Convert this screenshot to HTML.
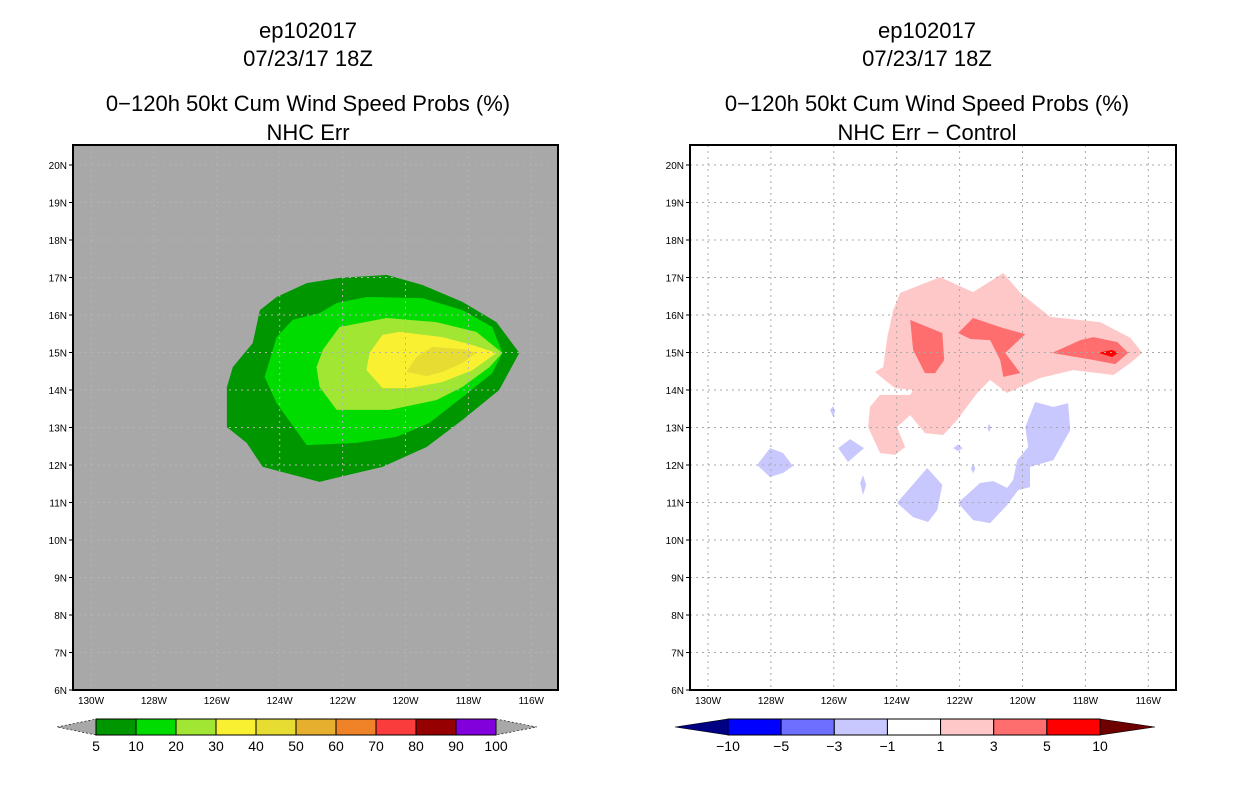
<!DOCTYPE html>
<html><head><meta charset="utf-8"><style>
html,body{margin:0;padding:0;background:#fff;}
svg{display:block;}
text{font-family:"Liberation Sans",sans-serif;}
</style></head><body>
<svg id="root" width="1236" height="800" xmlns="http://www.w3.org/2000/svg">
<rect width="1236" height="800" fill="#fff"/>
</svg>
<script>
// ---- data ----
const lonTicks=[130,128,126,124,122,120,118,116];
const latTicks=[20,19,18,17,16,15,14,13,12,11,10,9,8,7,6];
const leftLevels=['5','10','20','30','40','50','60','70','80','90','100'];
const leftColors=['#009600','#00dc00','#a0e632','#faf032','#e6dc32','#e6af2d','#f08228','#fa3c3c','#960000','#8200dc'];
const rightLevels=['\u221210','\u22125','\u22123','\u22121','1','3','5','10'];
const rightColors=['#0000ff','#6e6eff','#c8c8ff','#ffffff','#ffc8c8','#ff6e6e','#ff0000'];
// contours [lonW, latN]
const probC5=[[123.14,16.85],[122.1,16.99],[120.6,17.07],[119.46,16.8],[118.19,16.35],[117.11,15.81],[116.38,14.99],[117.02,14.0],[118.19,13.2],[119.33,12.48],[120.73,11.95],[122.1,11.68],[122.73,11.55],[124.54,11.95],[125.05,12.59],[125.68,13.01],[125.68,14.08],[125.49,14.61],[124.86,15.25],[124.63,16.13],[124.1,16.48]];
const probC10=[[122.19,16.32],[121.24,16.48],[119.46,16.45],[118.19,16.13],[117.24,15.68],[116.92,14.99],[117.24,14.45],[118.19,13.81],[119.24,13.12],[120.29,12.75],[121.56,12.59],[123.14,12.53],[124.1,13.65],[124.48,14.35],[124.1,15.41],[123.59,15.87],[122.73,16.05]];
const probC20=[[122.63,15.07],[122.1,15.68],[120.6,15.92],[119.02,15.81],[117.75,15.55],[116.92,14.99],[117.33,14.61],[118.19,14.08],[119.02,13.73],[120.51,13.47],[122.19,13.47],[122.73,14.08],[122.83,14.61]];
const probC30=[[121.24,14.53],[121.14,14.99],[120.73,15.47],[120.19,15.55],[118.83,15.41],[117.87,15.2],[117.11,14.99],[117.87,14.53],[118.83,14.21],[119.87,14.05],[120.73,14.05]];
const probC40=[[119.97,14.48],[119.65,14.88],[119.14,15.15],[118.19,15.09],[117.75,14.99],[118.19,14.72],[118.83,14.48],[119.33,14.37]];
const diffP1=[[123.89,16.59],[122.62,17.01],[121.57,16.61],[120.61,17.12],[120.07,16.59],[119.12,15.95],[117.53,15.81],[116.57,15.39],[116.19,14.99],[116.57,14.72],[117.11,14.4],[118.39,14.53],[119.44,14.32],[120.49,13.92],[121.03,14.27],[121.44,13.92],[122.08,13.2],[122.52,12.8],[123.1,12.85],[123.57,13.33],[123.99,13.01],[123.73,12.48],[124.05,12.27],[124.53,12.32],[124.91,13.01],[124.85,13.55],[124.53,13.87],[123.57,13.87],[123.48,14.0],[124.05,14.05],[124.3,14.21],[124.69,14.48],[124.43,14.61],[124.3,15.41],[124.11,16.13]];
const diffP3a=[[123.57,15.87],[122.55,15.52],[122.49,14.8],[122.78,14.45],[123.1,14.45],[123.48,15.07]];
const diffP3b=[[122.05,15.52],[121.57,15.92],[120.61,15.65],[119.91,15.49],[120.55,14.99],[120.07,14.45],[120.61,14.35],[120.71,14.8],[121.03,15.33],[121.66,15.36]];
const diffP3c=[[119.06,14.99],[118.16,15.33],[117.75,15.41],[116.99,15.28],[116.64,14.99],[117.05,14.69],[117.75,14.8]];
const diffP5=[[117.59,14.99],[117.15,15.07],[116.96,14.99],[117.15,14.88]];
const diffN=[
 [[128.44,12.0],[128.03,12.45],[127.61,12.32],[127.3,11.97],[127.61,11.79],[128.03,11.68]],
 [[125.86,12.45],[125.48,12.69],[125.04,12.45],[125.55,12.08]],
 [[126.12,13.47],[126.02,13.57],[125.96,13.44],[126.02,13.28]],
 [[125.16,11.52],[125.07,11.73],[124.97,11.47],[125.07,11.2]],
 [[123.99,10.99],[123.03,11.92],[122.55,11.47],[122.71,10.8],[123.0,10.48],[123.48,10.61]],
 [[122.05,10.99],[121.35,11.52],[120.93,11.57],[120.49,11.39],[120.3,11.6],[120.17,12.13],[119.82,12.48],[119.91,13.01],[119.6,13.68],[119.02,13.55],[118.55,13.65],[118.48,12.93],[119.02,12.13],[119.76,11.95],[119.76,11.41],[120.14,11.33],[120.49,10.93],[121.03,10.45],[121.57,10.53]],
 [[121.06,13.1],[121.0,12.99],[121.06,12.88],[121.12,12.99]],
 [[122.05,12.55],[121.9,12.45],[122.05,12.37],[122.2,12.45]],
 [[121.57,12.05],[121.5,11.9],[121.57,11.78],[121.64,11.9]]
];
// ---- drawing ----
const NS='http://www.w3.org/2000/svg';
const root=document.getElementById('root');
function mk(tag,attrs,parent){const e=document.createElementNS(NS,tag);for(const k in attrs)e.setAttribute(k,attrs[k]);(parent||root).appendChild(e);return e;}
function makeAxes(x0){
  return {x:lon=>x0+(130-lon)*31.45, y:lat=>352.5-(lat-15)*37.5};
}
function poly(ax,pts,fill,g,name){
  const p=mk('polygon',{points:pts.map(q=>ax.x(q[0]).toFixed(1)+','+ax.y(q[1]).toFixed(1)).join(' '),fill:fill},g);
  
  
}
function panel(fx0,fx1,lonX0,bg,titleLines,name,cx){
  const g=mk('g',{});
  
  
  const ys=[30,58,103,132];
  titleLines.forEach((t,i)=>{const e=mk('text',{x:cx,y:ys[i]+8,'text-anchor':'middle','font-size':'22',fill:'#000'},g);e.textContent=t;
    
    });
  const bgr=mk('rect',{x:fx0,y:145,width:fx1-fx0,height:545,fill:bg},g);
  
  
  return {g:g,ax:makeAxes(lonX0)};
}
function frame(P,fx0,fx1,gc){
  const g=P.g, ax=P.ax;
  lonTicks.forEach(l=>{const x=ax.x(l);
    const gl=mk('line',{x1:x,y1:145,x2:x,y2:690,stroke:gc,'stroke-width':1,'stroke-dasharray':'2,4'},g);
    
    
    const t=mk('text',{x:x,y:704,'text-anchor':'middle','font-size':'10',fill:'#000'},g);t.textContent=l+'W';
    
    });
  latTicks.forEach(l=>{const y=ax.y(l);
    if(l>6&&l<20.6){const gl=mk('line',{x1:fx0,y1:y,x2:fx1,y2:y,stroke:gc,'stroke-width':1,'stroke-dasharray':'2,4'},g);
    
    }
    mk('line',{x1:fx0-4,y1:y,x2:fx0,y2:y,stroke:'#000'},g);
    const t=mk('text',{x:fx0-6,y:y+4,'text-anchor':'end','font-size':'10',fill:'#000'},g);t.textContent=l+'N';
    
    });
  const r=mk('rect',{x:fx0,y:145,width:fx1-fx0,height:545,fill:'none',stroke:'#000','stroke-width':2},g);
  
  
}
function colorbar(x0,x1,tipL,tipR,colors,labels,lc,rc,name){
  const g=mk('g',{});
  
  
  const n=colors.length,w=(x1-x0)/n;
  const tl=mk('polygon',{points:`${tipL},727 ${x0},719 ${x0},735`,fill:lc,stroke:'#000','stroke-width':0.6,'stroke-dasharray':lc=='#a8a8a8'?'2,2':'none'},g);
  
  
  const tr=mk('polygon',{points:`${x1},719 ${tipR},727 ${x1},735`,fill:rc,stroke:'#000','stroke-width':0.6,'stroke-dasharray':rc=='#a8a8a8'?'2,2':'none'},g);
  
  
  colors.forEach((c,i)=>{const r=mk('rect',{x:x0+i*w,y:719,width:w,height:16,fill:c,stroke:'#000','stroke-width':1},g);
    
    });
  labels.forEach((l,i)=>{const t=mk('text',{x:x0+i*w,y:751,'text-anchor':'middle','font-size':'14',fill:'#000'},g);t.textContent=l;
    
    });
}
// left panel
const L=panel(73,558,91,'#a8a8a8',['ep102017','07/23/17 18Z','0\u2212120h 50kt Cum Wind Speed Probs (%)','NHC Err'],'left-panel',308);
poly(L.ax,probC5,leftColors[0],L.g,'prob-contour-5');
poly(L.ax,probC10,leftColors[1],L.g,'prob-contour-10');
poly(L.ax,probC20,leftColors[2],L.g,'prob-contour-20');
poly(L.ax,probC30,leftColors[3],L.g,'prob-contour-30');
poly(L.ax,probC40,leftColors[4],L.g,'prob-contour-40');
frame(L,73,558,'#b4b4b4');
// right panel
const R=panel(690,1176,708,'#ffffff',['ep102017','07/23/17 18Z','0\u2212120h 50kt Cum Wind Speed Probs (%)','NHC Err \u2212 Control'],'right-panel',927);
poly(R.ax,diffP1,rightColors[4],R.g,'diff-contour-plus1');
poly(R.ax,diffP3a,rightColors[5],R.g,'diff-contour-plus3');
poly(R.ax,diffP3b,rightColors[5],R.g,'diff-contour-plus3');
poly(R.ax,diffP3c,rightColors[5],R.g,'diff-contour-plus3');
poly(R.ax,diffP5,rightColors[6],R.g,'diff-contour-plus5');
diffN.forEach(p=>poly(R.ax,p,rightColors[2],R.g,'diff-contour-minus1'));
frame(R,690,1176,'#a8a8a8');
colorbar(96,496,57,537,leftColors,leftLevels,'#a8a8a8','#a8a8a8','left-colorbar');
colorbar(728,1100,675,1155,rightColors,rightLevels,'#000082','#6e0000','right-colorbar');
</script>
</body></html>
